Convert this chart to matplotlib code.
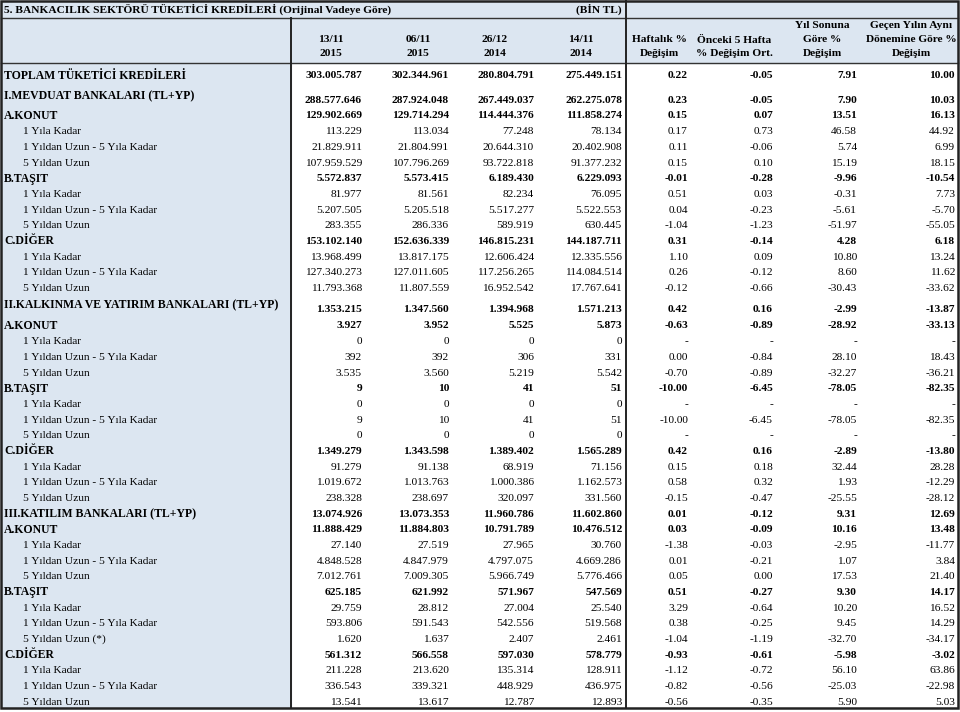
import matplotlib.pyplot as plt
from matplotlib.patches import Rectangle

plt.rcParams["font.family"] = ["Liberation Serif", "DejaVu Serif"]

title = "5. BANKACILIK SEKTÖRÜ TÜKETİCİ KREDİLERİ (Orijinal Vadeye Göre)"
unit = "(BİN TL)"
date_headers = [("13/11", "2015"), ("06/11", "2015"), ("26/12", "2014"), ("14/11", "2014")]
pct_headers = [("Haftalık %", "Değişim"),
               ("Önceki 5 Hafta", "% Değişim Ort."),
               ("Yıl Sonuna", "Göre %", "Değişim"),
               ("Geçen Yılın Aynı", "Dönemine Göre %", "Değişim")]

sub = ["1 Yıla Kadar", "1 Yıldan Uzun - 5 Yıla Kadar", "5 Yıldan Uzun"]
labels = (["TOPLAM TÜKETİCİ KREDİLERİ", "I.MEVDUAT BANKALARI (TL+YP)",
           "A.KONUT"] + sub + ["B.TAŞIT"] + sub + ["C.DİĞER"] + sub +
          ["II.KALKINMA VE YATIRIM BANKALARI (TL+YP)", "A.KONUT"] + sub +
          ["B.TAŞIT"] + sub + ["C.DİĞER"] + sub +
          ["III.KATILIM BANKALARI (TL+YP)", "A.KONUT"] + sub + ["B.TAŞIT"] +
          sub[:2] + ["5 Yıldan Uzun (*)", "C.DİĞER"] + sub)
# 0 = sub item, 1 = bold heading
bold = [1, 1, 1, 0, 0, 0, 1, 0, 0, 0, 1, 0, 0, 0,
        1, 1, 0, 0, 0, 1, 0, 0, 0, 1, 0, 0, 0,
        1, 1, 0, 0, 0, 1, 0, 0, 0, 1, 0, 0, 0]

v_131115 = [303005787, 288577646, 129902669, 113229, 21829911, 107959529,
            5572837, 81977, 5207505, 283355, 153102140, 13968499, 127340273, 11793368,
            1353215, 3927, 0, 392, 3535, 9, 0, 9, 0, 1349279, 91279, 1019672, 238328,
            13074926, 11888429, 27140, 4848528, 7012761, 625185, 29759, 593806, 1620,
            561312, 211228, 336543, 13541]
v_061115 = [302344961, 287924048, 129714294, 113034, 21804991, 107796269,
            5573415, 81561, 5205518, 286336, 152636339, 13817175, 127011605, 11807559,
            1347560, 3952, 0, 392, 3560, 10, 0, 10, 0, 1343598, 91138, 1013763, 238697,
            13073353, 11884803, 27519, 4847979, 7009305, 621992, 28812, 591543, 1637,
            566558, 213620, 339321, 13617]
v_261214 = [280804791, 267449037, 114444376, 77248, 20644310, 93722818,
            6189430, 82234, 5517277, 589919, 146815231, 12606424, 117256265, 16952542,
            1394968, 5525, 0, 306, 5219, 41, 0, 41, 0, 1389402, 68919, 1000386, 320097,
            11960786, 10791789, 27965, 4797075, 5966749, 571967, 27004, 542556, 2407,
            597030, 135314, 448929, 12787]
v_141114 = [275449151, 262275078, 111858274, 78134, 20402908, 91377232,
            6229093, 76095, 5522553, 630445, 144187711, 12335556, 114084514, 17767641,
            1571213, 5873, 0, 331, 5542, 51, 0, 51, 0, 1565289, 71156, 1162573, 331560,
            11602860, 10476512, 30760, 4669286, 5776466, 547569, 25540, 519568, 2461,
            578779, 128911, 436975, 12893]
N = None
weekly = [0.22, 0.23, 0.15, 0.17, 0.11, 0.15, -0.01, 0.51, 0.04, -1.04,
          0.31, 1.10, 0.26, -0.12,
          0.42, -0.63, N, 0.00, -0.70, -10.00, N, -10.00, N, 0.42, 0.15, 0.58, -0.15,
          0.01, 0.03, -1.38, 0.01, 0.05, 0.51, 3.29, 0.38, -1.04, -0.93, -1.12, -0.82, -0.56]
prev5 = [-0.05, -0.05, 0.07, 0.73, -0.06, 0.10, -0.28, 0.03, -0.23, -1.23,
         -0.14, 0.09, -0.12, -0.66,
         0.16, -0.89, N, -0.84, -0.89, -6.45, N, -6.45, N, 0.16, 0.18, 0.32, -0.47,
         -0.12, -0.09, -0.03, -0.21, 0.00, -0.27, -0.64, -0.25, -1.19, -0.61, -0.72, -0.56, -0.35]
ytd = [7.91, 7.90, 13.51, 46.58, 5.74, 15.19, -9.96, -0.31, -5.61, -51.97,
       4.28, 10.80, 8.60, -30.43,
       -2.99, -28.92, N, 28.10, -32.27, -78.05, N, -78.05, N, -2.89, 32.44, 1.93, -25.55,
       9.31, 10.16, -2.95, 1.07, 17.53, 9.30, 10.20, 9.45, -32.70, -5.98, 56.10, -25.03, 5.90]
yoy = [10.00, 10.03, 16.13, 44.92, 6.99, 18.15, -10.54, 7.73, -5.70, -55.05,
       6.18, 13.24, 11.62, -33.62,
       -13.87, -33.13, N, 18.43, -36.21, -82.35, N, -82.35, N, -13.80, 28.28, -12.29, -28.12,
       12.69, 13.48, -11.77, 3.84, 21.40, 14.17, 16.52, 14.29, -34.17, -3.02, 63.86, -22.98, 5.03]


def fmt_int(v):
    return f"{v:,}".replace(",", ".")


def fmt_pct(v):
    return "-" if v is None else f"{v:.2f}"


# layout (pixels)
W, H = 960, 712
blue = "#dce6f1"
fs = 8.2
fs_head = 8.5
x_lab, x_sub = 4, 23
x_left, x_div1, x_div2, x_right = 1, 291, 626, 958
y_title, y_head, y_bot = 18, 63, 708
int_right = [362, 449, 534, 622]
int_head = [331, 418, 495, 581]
pct_right = [688, 773, 857, 955]
pct_head = [659, 734, 822, 911]

step = 15.67
row_y, val_y = [], []
y = 76
for i, lab in enumerate(labels):
    if i == 1:
        y = 96
    elif i == 2:
        y = 116
    elif lab.startswith("II.") and not lab.startswith("III."):
        y = y + 16.6
    elif i == 15:
        y = 326
    elif i > 2:
        y += step
    row_y.append(y)
    off = 4.5 if lab.startswith(("I.", "II.")) else 0
    val_y.append(y + off)

fig = plt.figure(figsize=(W / 100, H / 100), dpi=100)
ax = fig.add_axes([0, 0, 1, 1])
ax.set_xlim(0, W)
ax.set_ylim(H, 0)
ax.axis("off")

ax.add_patch(Rectangle((x_left, 1), x_right - x_left, y_head - 1, color=blue, zorder=0))
ax.add_patch(Rectangle((x_left, y_head), x_div1 - x_left, y_bot - y_head, color=blue, zorder=0))

ax.plot([x_left, x_right], [y_title, y_title], color="#333333", lw=1)
ax.plot([x_left, x_right], [y_head, y_head], color="#333333", lw=1)
ax.plot([x_div1, x_div1], [y_title, y_bot], color="#222222", lw=1.4)
ax.plot([x_div2, x_div2], [1, y_bot], color="#222222", lw=1.4)
ax.add_patch(Rectangle((x_left, 1), x_right - x_left, y_bot - 1, fill=False,
                       edgecolor="#222222", lw=1.8, zorder=5))

ax.text(x_lab, 9.5, title, fontsize=fs, fontweight="bold", va="center")
ax.text(int_right[3], 9.5, unit, fontsize=fs, fontweight="bold", va="center", ha="right")

for (d, yr), xc in zip(date_headers, int_head):
    ax.text(xc, 40, d, fontsize=fs, fontweight="bold", ha="center", va="center")
    ax.text(xc, 54, yr, fontsize=fs, fontweight="bold", ha="center", va="center")
for lines, xc in zip(pct_headers, pct_head):
    ys = [40, 54] if len(lines) == 2 else [25, 40, 54]
    for t, yy in zip(lines, ys):
        ax.text(xc, yy, t, fontsize=fs, fontweight="bold", ha="center", va="center")

for i, lab in enumerate(labels):
    w = "bold" if bold[i] else "normal"
    ax.text(x_lab if bold[i] else x_sub, row_y[i], lab,
            fontsize=fs_head if bold[i] else fs, fontweight=w, va="center")
    for col, xr in zip([v_131115, v_061115, v_261214, v_141114], int_right):
        ax.text(xr, val_y[i], fmt_int(col[i]), fontsize=fs, fontweight=w,
                ha="right", va="center")
    for col, xr in zip([weekly, prev5, ytd, yoy], pct_right):
        ax.text(xr, val_y[i], fmt_pct(col[i]), fontsize=fs, fontweight=w,
                ha="right", va="center")

fig.savefig("out.png", dpi=100)
